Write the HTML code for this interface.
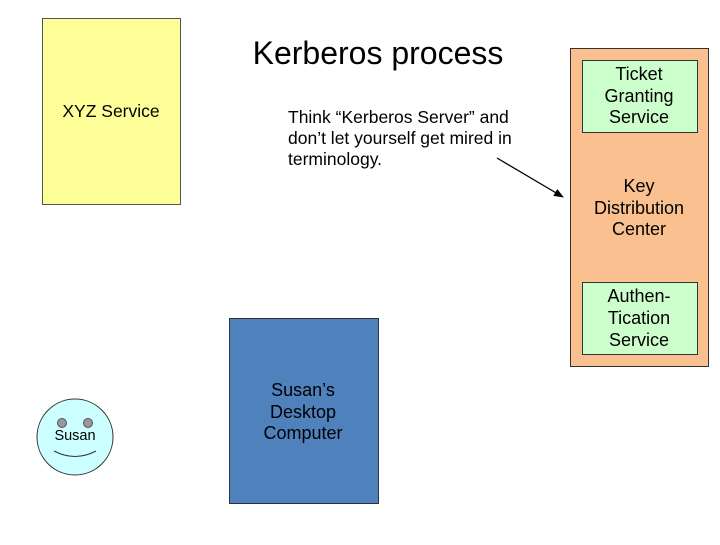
<!DOCTYPE html>
<html><head><style>
body{margin:0;width:720px;height:540px;background:#fff;overflow:hidden;font-family:"Liberation Sans",sans-serif;}
</style></head><body>
<svg width="720" height="540" xmlns="http://www.w3.org/2000/svg" font-family="Liberation Sans, sans-serif">
<defs><marker id="a" markerWidth="10" markerHeight="8" refX="9" refY="4" orient="auto" markerUnits="userSpaceOnUse"><path d="M0,0 L10,4 L0,8 z" fill="#000"/></marker></defs>
<rect x="42.5" y="18.5" width="138" height="186" fill="#ffff99" stroke="#555"/>
<text x="111" y="117" font-size="17.5" text-anchor="middle">XYZ Service</text>
<text x="378" y="64" font-size="32" text-anchor="middle">Kerberos process</text>
<text font-size="17.5" x="288" y="123">Think “Kerberos Server” and</text>
<text font-size="17.5" x="288" y="144">don’t let yourself get mired in</text>
<text font-size="17.5" x="288" y="165">terminology.</text>
<line x1="497" y1="158" x2="563" y2="197" stroke="#000" stroke-width="1.3" marker-end="url(#a)"/>
<rect x="570.5" y="48.5" width="138" height="318" fill="#fac090" stroke="#333"/>
<rect x="582.5" y="60.5" width="115" height="72" fill="#ccffcc" stroke="#333"/>
<g font-size="18" text-anchor="middle">
<text x="639" y="80">Ticket</text><text x="639" y="102">Granting</text><text x="639" y="123">Service</text>
<text x="639" y="192">Key</text><text x="639" y="214">Distribution</text><text x="639" y="235">Center</text>
</g>
<rect x="582.5" y="282.5" width="115" height="72" fill="#ccffcc" stroke="#333"/>
<g font-size="18" text-anchor="middle">
<text x="639" y="302">Authen-</text><text x="639" y="324">Tication</text><text x="639" y="346">Service</text>
</g>
<rect x="229.5" y="318.5" width="149" height="185" fill="#4f81bd" stroke="#333"/>
<g font-size="18" text-anchor="middle">
<text x="303" y="396">Susan’s</text><text x="303" y="418">Desktop</text><text x="303" y="439">Computer</text>
</g>
<circle cx="75" cy="437" r="38" fill="#ccffff" stroke="#333"/>
<circle cx="62" cy="423" r="4.5" fill="#999" stroke="#555"/>
<circle cx="88" cy="423" r="4.5" fill="#999" stroke="#555"/>
<text x="75" y="440" font-size="14.5" text-anchor="middle">Susan</text>
<path d="M54,451 Q75,462 96,451" fill="none" stroke="#333"/>
</svg>
</body></html>
